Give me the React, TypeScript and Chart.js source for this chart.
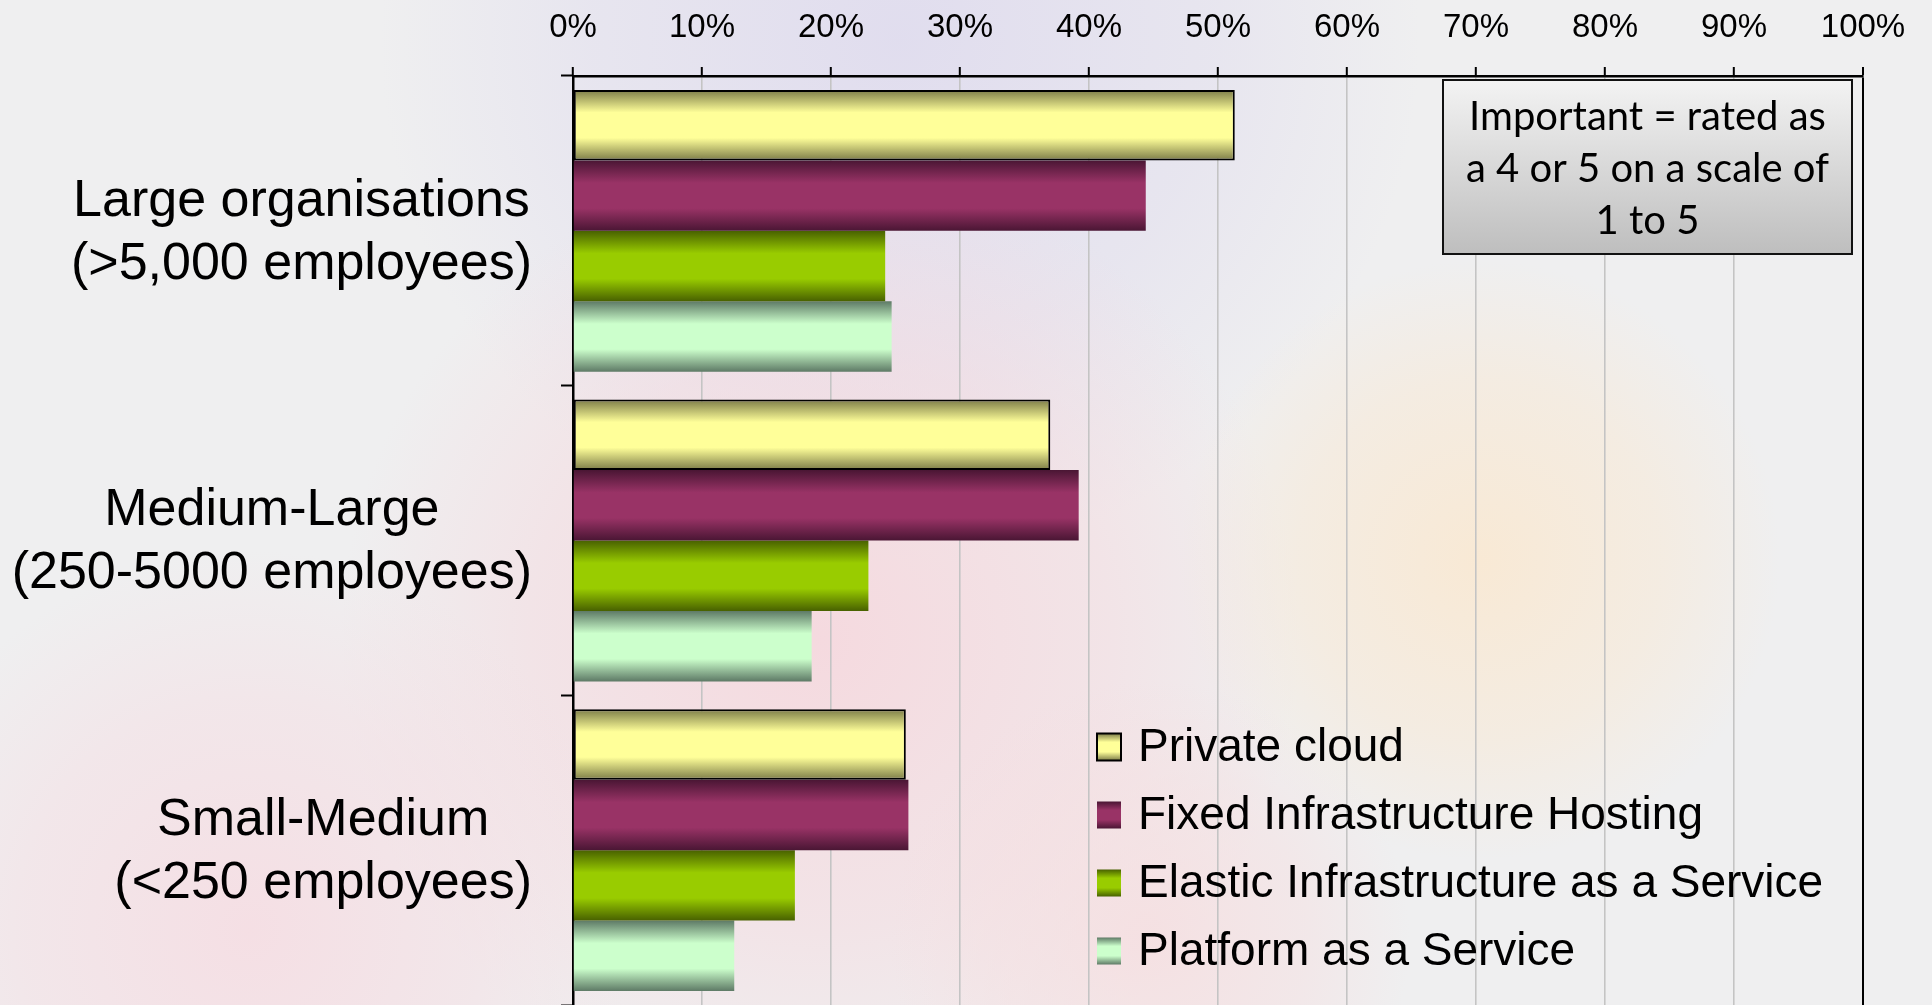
import React, { useEffect, useRef } from "react";
import { Chart, registerables } from "chart.js";

Chart.register(...registerables);

// ---------- data ----------
const categories: string[][] = [
  ["Large organisations", "(>5,000 employees)"],
  ["Medium-Large", "(250-5000 employees)"],
  ["Small-Medium", "(<250 employees)"],
];
const seriesNames = [
  "Private cloud",
  "Fixed Infrastructure Hosting",
  "Elastic Infrastructure as a Service",
  "Platform as a Service",
];
const privateCloud = [51.3, 37.0, 25.8];
const fixedHosting = [44.4, 39.2, 26.0];
const elasticIaaS = [24.2, 22.9, 17.2];
const platformAaS = [24.7, 18.5, 12.5];
const axisMin = 0;
const axisMax = 100;
const axisStep = 10;
const noteLines = ["Important = rated as", "a 4 or 5 on a scale of", "1 to 5"];

// ---------- styles ----------
const W = 1932;
const H = 1005;
const FONT = "'Liberation Sans', Arial, sans-serif";
const seriesStyles = [
  { edge: "#7c7c48", mid: "#ffff99", border: "#000000", borderWidth: 2 },
  { edge: "#4a1634", mid: "#993366", border: "#4a1634", borderWidth: 0 },
  { edge: "#486100", mid: "#99cc00", border: "#486100", borderWidth: 0 },
  { edge: "#5e7a66", mid: "#ccffcc", border: "#5e7a66", borderWidth: 0 },
];
const seriesValues = [privateCloud, fixedHosting, elasticIaaS, platformAaS];

function vGrad(c: CanvasRenderingContext2D, top: number, bot: number, edge: string, mid: string) {
  const g = c.createLinearGradient(0, top, 0, bot);
  g.addColorStop(0, edge);
  g.addColorStop(0.32, mid);
  g.addColorStop(0.68, mid);
  g.addColorStop(1, edge);
  return g;
}

const barFill = (edge: string, mid: string) => (ctx: any) => {
  const chart = ctx.chart;
  if (ctx.dataIndex == null) return mid;
  const meta = chart.getDatasetMeta(ctx.datasetIndex);
  const el: any = meta && meta.data[ctx.dataIndex];
  if (!el || el.y == null || el.height == null || !isFinite(el.y) || !isFinite(el.height)) return mid;
  return vGrad(chart.ctx, el.y - el.height / 2, el.y + el.height / 2, edge, mid);
};

const backgroundPlugin = {
  id: "bgPaint",
  beforeDraw(chart: any) {
    const c: CanvasRenderingContext2D = chart.ctx;
    c.save();
    c.fillStyle = "#efeff0";
    c.fillRect(0, 0, chart.width, chart.height);
    const blobs = [
      { x: 900, y: 40, r: 520, col: "rgba(222,218,238," },
      { x: 820, y: 640, r: 480, col: "rgba(246,214,220," },
      { x: 250, y: 930, r: 380, col: "rgba(246,220,226," },
      { x: 1480, y: 560, r: 300, col: "rgba(250,232,208," },
      { x: 1150, y: 940, r: 260, col: "rgba(246,222,224," },
    ];
    for (const b of blobs) {
      const g = c.createRadialGradient(b.x, b.y, 0, b.x, b.y, b.r);
      g.addColorStop(0, b.col + "0.85)");
      g.addColorStop(0.6, b.col + "0.45)");
      g.addColorStop(1, b.col + "0)");
      c.fillStyle = g;
      c.fillRect(0, 0, chart.width, chart.height);
    }
    c.restore();
  },
};

const categoryLabelPlugin = {
  id: "catLabels",
  afterDraw(chart: any) {
    const c: CanvasRenderingContext2D = chart.ctx;
    const y = chart.scales.y;
    const rightEdge = chart.chartArea.left - 41;
    const lineH = 63;
    c.save();
    c.font = `52px ${FONT}`;
    c.fillStyle = "#000";
    c.textAlign = "center";
    c.textBaseline = "middle";
    categories.forEach((lines, i) => {
      const cy = y.getPixelForValue(i) + 2;
      const widest = Math.max(...lines.map((l) => c.measureText(l).width));
      const cx = rightEdge - widest / 2;
      lines.forEach((l, k) => {
        c.fillText(l, cx, cy + (k - (lines.length - 1) / 2) * lineH);
      });
    });
    c.restore();
  },
};

const legendPlugin = {
  id: "innerLegend",
  afterDraw(chart: any) {
    const c: CanvasRenderingContext2D = chart.ctx;
    const area = chart.chartArea;
    const x0 = area.left + 524;
    const y0 = area.top + 671;
    const rowH = 68;
    c.save();
    c.font = `46px ${FONT}`;
    c.textBaseline = "middle";
    c.textAlign = "left";
    chart.data.datasets.forEach((ds: any, i: number) => {
      const st = seriesStyles[i];
      const cy = y0 + i * rowH;
      const bw = 24, bh = 27;
      c.fillStyle = vGrad(c, cy - bh / 2, cy + bh / 2, st.edge, st.mid);
      c.fillRect(x0, cy - bh / 2, bw, bh);
      if (st.borderWidth) {
        c.strokeStyle = st.border;
        c.lineWidth = 2;
        c.strokeRect(x0, cy - bh / 2, bw, bh);
      }
      c.fillStyle = "#000";
      c.fillText(ds.label, x0 + 41, cy + 1);
    });
    c.restore();
  },
};

const notePlugin = {
  id: "noteBox",
  afterDraw(chart: any) {
    const c: CanvasRenderingContext2D = chart.ctx;
    const area = chart.chartArea;
    const bx1 = area.right - 11;
    const bx0 = bx1 - 409;
    const by0 = area.top + 4;
    const by1 = by0 + 174;
    c.save();
    const g = c.createLinearGradient(0, by0, 0, by1);
    g.addColorStop(0, "#f3f3f3");
    g.addColorStop(1, "#bebebe");
    c.fillStyle = g;
    c.fillRect(bx0, by0, bx1 - bx0, by1 - by0);
    c.strokeStyle = "#111";
    c.lineWidth = 2;
    c.strokeRect(bx0, by0, bx1 - bx0, by1 - by0);
    c.fillStyle = "#000";
    c.font = `40px Lato, 'Open Sans', sans-serif`;
    c.textAlign = "center";
    c.textBaseline = "middle";
    const cx = (bx0 + bx1) / 2;
    noteLines.forEach((l, k) => {
      c.fillText(l, cx, by0 + 37 + k * 52);
    });
    c.restore();
  },
};

export default function App() {
  const ref = useRef<HTMLCanvasElement | null>(null);

  useEffect(() => {
    if (!ref.current) return;
    const chart = new Chart(ref.current, {
      type: "bar",
      data: {
        labels: categories,
        datasets: seriesNames.map((name, i) => ({
          label: name,
          data: seriesValues[i],
          backgroundColor: barFill(seriesStyles[i].edge, seriesStyles[i].mid),
          borderColor: seriesStyles[i].border,
          borderWidth: seriesStyles[i].borderWidth,
          borderSkipped: false,
          categoryPercentage: 0.91,
          barPercentage: 1.0,
        })),
      },
      options: {
        indexAxis: "y",
        responsive: false,
        animation: false,
        devicePixelRatio: 1,
        layout: { padding: { left: 0, right: 69, top: 0, bottom: 0 } },
        plugins: {
          legend: { display: false },
          tooltip: { enabled: false },
        },
        scales: {
          x: {
            position: "top",
            min: axisMin,
            max: axisMax,
            afterFit: (s: any) => {
              s.height = 76;
            },
            ticks: {
              stepSize: axisStep,
              callback: (v: any) => `${v}%`,
              color: "#000",
              font: { family: FONT, size: 33 },
              padding: 19,
              maxRotation: 0,
            },
            grid: {
              color: (c: any) => (c.tick && c.tick.value === axisMax ? "#000" : "#c4c4c4"),
              lineWidth: (c: any) => (c.tick && c.tick.value === axisMax ? 2 : 1.6),
              tickColor: "#000",
              tickLength: 9,
              tickWidth: 2,
              drawTicks: true,
            },
            border: { display: true, color: "#000", width: 2.5 },
          },
          y: {
            type: "category",
            afterFit: (s: any) => {
              s.width = 573;
            },
            ticks: { display: false },
            grid: {
              offset: true,
              drawOnChartArea: false,
              drawTicks: true,
              tickLength: 12,
              tickColor: "#000",
              tickWidth: 2,
            },
            border: { display: true, color: "#000", width: 2.5 },
          },
        },
      },
      plugins: [backgroundPlugin, categoryLabelPlugin, legendPlugin, notePlugin],
    } as any);
    chart.update();
    return () => chart.destroy();
  }, []);

  return (
    <div style={{ position: "fixed", left: 0, top: 0, width: W, height: H, overflow: "hidden" }}>
      <canvas ref={ref} width={W} height={H} style={{ width: W, height: H, display: "block" }} />
    </div>
  );
}
